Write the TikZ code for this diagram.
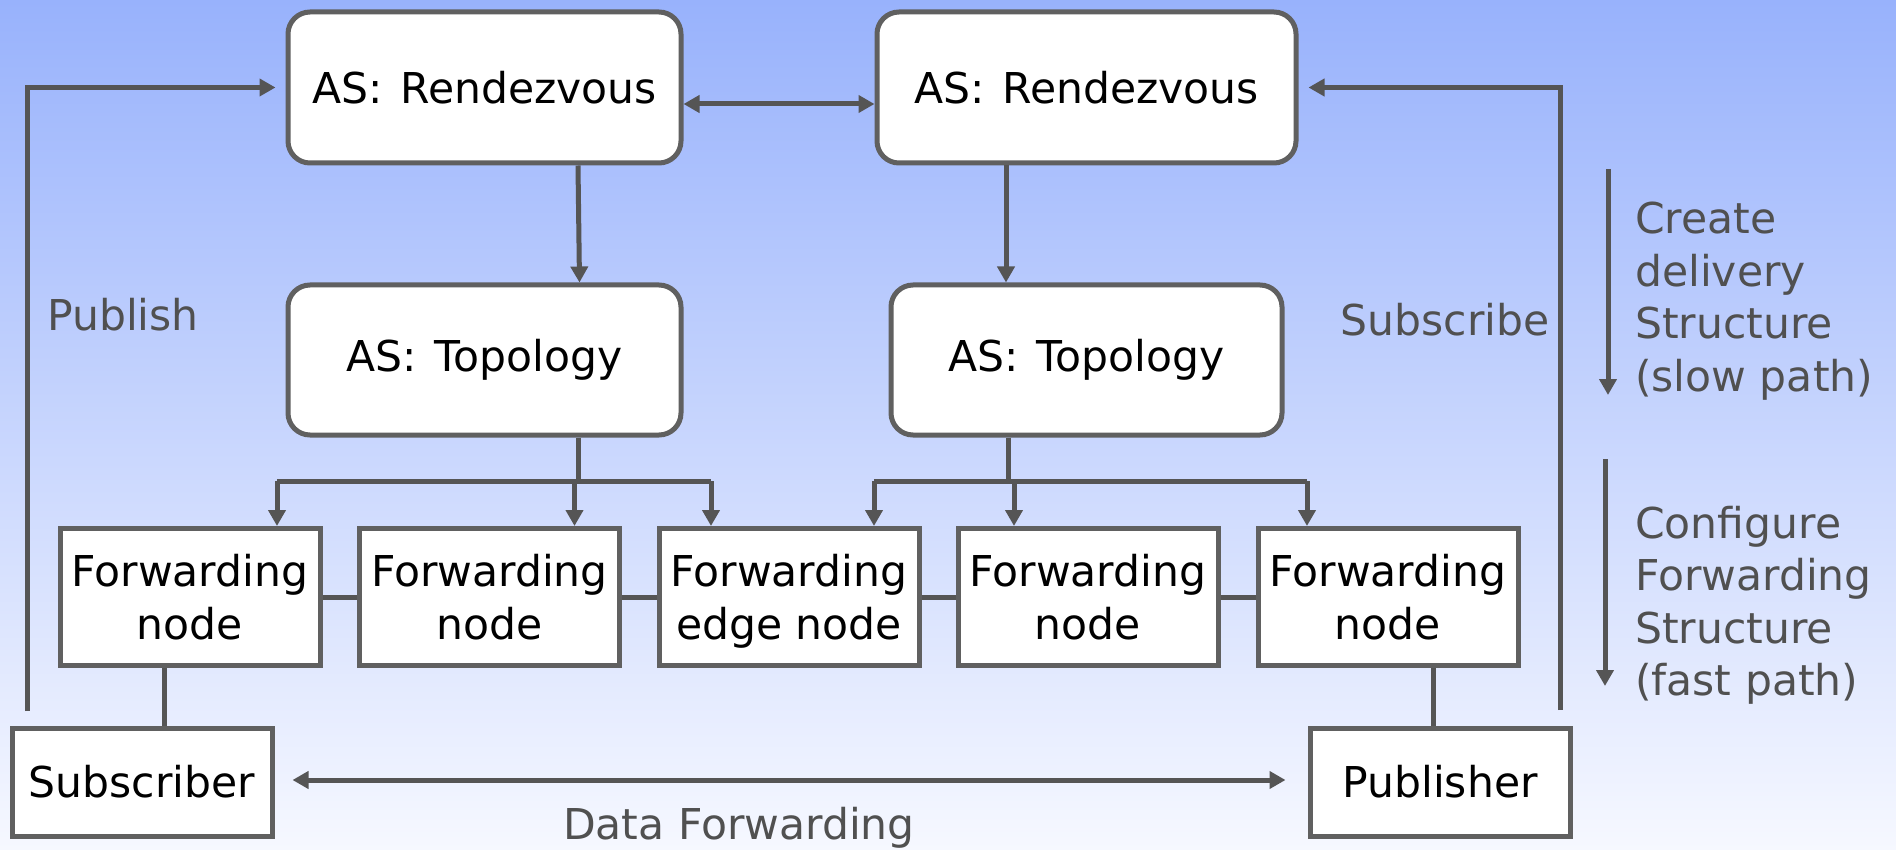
\documentclass[tikz,border=0pt]{standalone}
\usepackage{fontspec}
\setmainfont{DejaVu Sans}
\usetikzlibrary{arrows.meta,calc}
\definecolor{boxc}{RGB}{96,96,96}
\definecolor{linec}{RGB}{85,85,85}
\definecolor{labc}{RGB}{80,80,80}
\definecolor{bgtop}{RGB}{152,178,252}
\definecolor{bgbot}{RGB}{246,248,255}
\tikzset{
  txt/.style={font=\fontsize{42.5}{52.5}\selectfont},
  asbox/.style={txt, draw=boxc, line width=5pt, fill=white, rounded corners=22pt, align=center, inner sep=0pt},
  fwbox/.style={txt, draw=boxc, line width=5pt, fill=white, align=center, inner sep=0pt, minimum width=260pt, minimum height=137pt},
  endbox/.style={txt, draw=boxc, line width=5pt, fill=white, align=center, inner sep=0pt, minimum width=260pt, minimum height=108pt},
  lab/.style={txt, text=labc, inner sep=0pt},
  conn/.style={draw=linec, line width=5pt},
  arr/.style={conn, -{Triangle[length=16pt,width=17pt]}},
  darr/.style={conn, {Triangle[length=16pt,width=17pt]}-{Triangle[length=16pt,width=17pt]}}
}
\begin{document}
\begin{tikzpicture}[x=1pt,y=-1pt]
\useasboundingbox (0,0) rectangle (1896,850);
\shade[top color=bgtop, bottom color=bgbot] (0,0) rectangle (1896,850);

% boxes
\node[asbox, minimum width=393pt, minimum height=151pt] (rv1) at (484.5,87.5) {\raisebox{-3pt}{AS:\hskip0.42em Rendezvous}};
\node[asbox, minimum width=419pt, minimum height=151pt] (rv2) at (1086.5,87.5) {\raisebox{-3pt}{AS:\hskip0.42em Rendezvous}};
\node[asbox, minimum width=393pt, minimum height=150pt] (tp1) at (484.5,360) {\raisebox{-4pt}{AS:\hskip0.42em Topology}};
\node[asbox, minimum width=391pt, minimum height=150pt] (tp2) at (1086.5,360) {\raisebox{-4pt}{AS:\hskip0.42em Topology}};

\node[fwbox] (f1) at (190,597) {Forwarding\\node};
\node[fwbox, minimum height=137pt] (f2) at (489.5,597) {Forwarding\\node};
\node[fwbox] (f3) at (789,597) {Forwarding\\\raisebox{0pt}[\height][0pt]{edge node}};
\node[fwbox] (f4) at (1088,597) {Forwarding\\node};
\node[fwbox] (f5) at (1388,597) {Forwarding\\node};

\node[endbox] (sub) at (142,782) {Subscriber};
\node[endbox] (pub) at (1440,782) {Publisher};

% labels
\node[lab] (lpub) at (123,315) {Publish};
\node[lab] (lsub) at (1445,320) {Subscribe};
\node[lab] (ldf) at (739,828) {Data Forwarding};
\node[lab, anchor=north west, align=left] (lslow) at (1635,202) {Create\\delivery\\Structure\\(slow path)};
\node[lab, anchor=north west, align=left] (lfast) at (1635,506) {Configure\\Forwarding\\Structure\\(fast path)};

% coordinates
\coordinate (pubs) at (27,711);
\coordinate (subs) at (1560,710);
\coordinate (b1) at (578,481);
\coordinate (b2) at (1008,481);
\coordinate (slowA) at (1608,169);
\coordinate (slowB) at (1608,395);
\coordinate (fastA) at (1605,459);
\coordinate (fastB) at (1605,686);

% publish / subscribe
\draw[arr] (pubs) |- ([xshift=-10pt]rv1.west);
\draw[arr] (subs) |- ([xshift=10pt]rv2.east);
\draw[darr] ([yshift=-16.5pt]rv1.east) -- ([yshift=-16.5pt]rv2.west);

% rendezvous -> topology
\draw[arr] ([xshift=93.5pt]rv1.south) -- ([xshift=95pt]tp1.north);
\draw[arr] ([xshift=-80.5pt]rv2.south) -- ([xshift=-80.5pt]tp2.north);

% topology branches
\draw[conn] ([xshift=93.5pt]tp1.south) -- (b1);
\draw[conn] ([xshift=87pt]f1.north |- b1) -- ([xshift=-78pt]f3.north |- b1);
\draw[arr] ([xshift=87pt]f1.north |- b1) -- ([xshift=87pt]f1.north);
\draw[arr] ([xshift=85pt]f2.north |- b1) -- ([xshift=85pt]f2.north);
\draw[arr] ([xshift=-78pt]f3.north |- b1) -- ([xshift=-78pt]f3.north);

\draw[conn] ([xshift=-78.5pt]tp2.south) -- (b2);
\draw[conn] ([xshift=85pt]f3.north |- b2) -- ([xshift=-81pt]f5.north |- b2);
\draw[arr] ([xshift=85pt]f3.north |- b2) -- ([xshift=85pt]f3.north);
\draw[arr] ([xshift=-74pt]f4.north |- b2) -- ([xshift=-74pt]f4.north);
\draw[arr] ([xshift=-81pt]f5.north |- b2) -- ([xshift=-81pt]f5.north);

% forwarding chain
\draw[conn] (f1.east) -- (f2.west);
\draw[conn] (f2.east) -- (f3.west);
\draw[conn] (f3.east) -- (f4.west);
\draw[conn] (f4.east) -- (f5.west);
\draw[conn] ([xshift=-26pt]f1.south) -- ([xshift=-26pt]f1.south |- sub.north);
\draw[conn] ([xshift=45pt]f5.south) -- ([xshift=45pt]f5.south |- pub.north);

% data forwarding
\draw[darr] ([xshift=18pt,yshift=2pt]sub.east) -- ([xshift=-22pt,yshift=2pt]pub.west);

% side arrows
\draw[arr] (slowA) -- (slowB);
\draw[arr] (fastA) -- (fastB);
\end{tikzpicture}
\end{document}
